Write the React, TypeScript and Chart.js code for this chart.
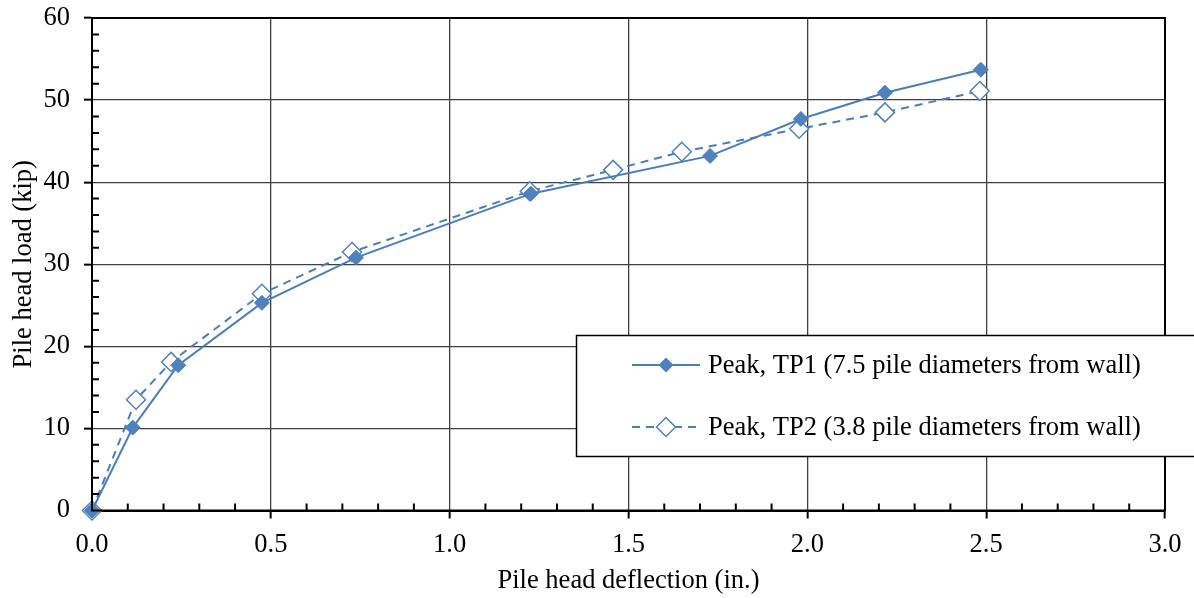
import { useEffect, useRef } from "react";
import { Chart, registerables } from "chart.js";

Chart.register(...registerables);

const seriesLabels = [
  "Peak, TP1 (7.5 pile diameters from wall)",
  "Peak, TP2 (3.8 pile diameters from wall)",
];
const tp1X = [0, 0.114, 0.241, 0.475, 0.738, 1.227, 1.728, 1.982, 2.217, 2.485];
const tp1Y = [0, 10.1, 17.7, 25.3, 30.8, 38.6, 43.2, 47.7, 50.9, 53.7];
const tp2X = [0, 0.123, 0.221, 0.475, 0.727, 1.224, 1.457, 1.649, 1.977, 2.217, 2.482];
const tp2Y = [0, 13.5, 18.1, 26.4, 31.5, 38.9, 41.5, 43.7, 46.5, 48.5, 51.1];
const xTitle = "Pile head deflection (in.)";
const yTitle = "Pile head load (kip)";
const xMin = 0, xMax = 3, xStep = 0.5, xMinor = 0.1;
const yMin = 0, yMax = 60, yStep = 10, yMinor = 2;

const BLUE = "#4a7ebb";
const MARK = "#4f81bd";
const FONT = "'Liberation Serif', 'Times New Roman', serif";
const TICK_SIZE = 26.5;
const TITLE_SIZE = 26.5;
const LEGEND_SIZE = 26.5;

function diamond(ctx: CanvasRenderingContext2D, x: number, y: number, r: number) {
  ctx.beginPath();
  ctx.moveTo(x - r, y);
  ctx.lineTo(x, y - r);
  ctx.lineTo(x + r, y);
  ctx.lineTo(x, y + r);
  ctx.closePath();
}

const framePlugin = {
  id: "frame",
  afterDraw(chart: any) {
    const ctx: CanvasRenderingContext2D = chart.ctx;
    const { left, right, top, bottom } = chart.chartArea;
    const xs = chart.scales.x;
    const ys = chart.scales.y;
    ctx.save();
    // minor ticks
    ctx.strokeStyle = "#000";
    ctx.lineWidth = 2;
    ctx.beginPath();
    for (let v = yMin; v <= yMax + 1e-9; v += yMinor) {
      if (Math.abs(v / yStep - Math.round(v / yStep)) < 1e-6) continue;
      const py = ys.getPixelForValue(v);
      ctx.moveTo(left, py);
      ctx.lineTo(left + 7, py);
    }
    for (let v = xMin; v <= xMax + 1e-9; v += xMinor) {
      if (Math.abs(v / xStep - Math.round(v / xStep)) < 1e-6) continue;
      const px = xs.getPixelForValue(v);
      ctx.moveTo(px, bottom);
      ctx.lineTo(px, bottom - 7);
    }
    ctx.stroke();
    // frame
    ctx.lineWidth = 2;
    ctx.strokeRect(left, top, right - left, bottom - top);

    // legend
    const lx = 576.5, ly = 335.5, lw = 700, lh = 121;
    ctx.fillStyle = "#fff";
    ctx.fillRect(lx, ly, lw, lh);
    ctx.lineWidth = 1.5;
    ctx.strokeStyle = "#000";
    ctx.strokeRect(lx, ly, lw, lh);
    const rows = [365, 427];
    ctx.font = LEGEND_SIZE + "px " + FONT;
    ctx.textBaseline = "middle";
    ctx.textAlign = "left";
    rows.forEach((ry, i) => {
      ctx.strokeStyle = BLUE;
      ctx.lineWidth = 2;
      ctx.setLineDash(i === 0 ? [] : [8, 6]);
      ctx.beginPath();
      ctx.moveTo(632, ry);
      ctx.lineTo(700, ry);
      ctx.stroke();
      ctx.setLineDash([]);
      if (i === 0) {
        diamond(ctx, 666, ry, 7.5);
        ctx.fillStyle = MARK;
        ctx.fill();
      } else {
        diamond(ctx, 666, ry, 9.5);
        ctx.fillStyle = "#fff";
        ctx.fill();
        ctx.strokeStyle = MARK;
        ctx.lineWidth = 1.5;
        ctx.stroke();
      }
      ctx.fillStyle = "#000";
      ctx.fillText(seriesLabels[i], 708, ry + 1);
    });
    ctx.restore();
  },
};

export default function App() {
  const ref = useRef<HTMLCanvasElement>(null);
  useEffect(() => {
    document.body.style.margin = "0";
    const canvas = ref.current!;
    const chart = new Chart(canvas, {
      type: "scatter",
      data: {
        datasets: [
          {
            label: seriesLabels[0],
            data: tp1X.map((x, i) => ({ x, y: tp1Y[i] })),
            showLine: true,
            borderColor: BLUE,
            borderWidth: 2,
            pointStyle: "rectRot",
            pointRadius: 7.5,
            pointBackgroundColor: MARK,
            pointBorderColor: MARK,
            pointBorderWidth: 1,
            clip: false,
          },
          {
            label: seriesLabels[1],
            data: tp2X.map((x, i) => ({ x, y: tp2Y[i] })),
            showLine: true,
            borderColor: BLUE,
            borderWidth: 2,
            borderDash: [8, 6],
            pointStyle: "rectRot",
            pointRadius: 9.5,
            pointBackgroundColor: "#fff",
            pointBorderColor: MARK,
            pointBorderWidth: 1.5,
            clip: false,
          },
        ] as any,
      },
      options: {
        responsive: false,
        animation: false,
        layout: { padding: { top: 18, right: 29, left: 0, bottom: 0 } },
        plugins: { legend: { display: false }, tooltip: { enabled: false } },
        scales: {
          x: {
            type: "linear",
            min: xMin,
            max: xMax,
            afterFit: (s: any) => {
              s.height = 87.5;
              s.paddingLeft = 0;
              s.paddingRight = 0;
            },
            ticks: {
              stepSize: xStep,
              callback: (v: any) => Number(v).toFixed(1),
              font: { family: FONT, size: TICK_SIZE },
              color: "#000",
              padding: 11,
              maxRotation: 0,
            },
            grid: { color: "#404040", lineWidth: 1.3, tickColor: "#000", tickLength: 8, tickWidth: 2 },
            border: { display: true, color: "#000", width: 2 },
            title: {
              display: true,
              text: xTitle,
              font: { family: FONT, size: TITLE_SIZE },
              color: "#000",
              padding: { top: 0, bottom: 1 },
            },
          },
          y: {
            type: "linear",
            min: yMin,
            max: yMax,
            afterFit: (s: any) => {
              s.width = 92;
              s.paddingTop = 0;
              s.paddingBottom = 0;
            },
            ticks: {
              stepSize: yStep,
              font: { family: FONT, size: TICK_SIZE },
              color: "#000",
              padding: 14,
            },
            grid: { color: "#404040", lineWidth: 1.3, tickColor: "#000", tickLength: 8, tickWidth: 2 },
            border: { display: true, color: "#000", width: 2 },
            title: {
              display: true,
              text: yTitle,
              font: { family: FONT, size: TITLE_SIZE },
              color: "#000",
              padding: { top: 8, bottom: 0 },
            },
          },
        },
      } as any,
      plugins: [framePlugin],
    });
    return () => chart.destroy();
  }, []);
  return (
    <div style={{ position: "absolute", left: 0, top: 0, width: 1194, height: 598 }}>
      <canvas ref={ref} width={1194} height={598} />
    </div>
  );
}
